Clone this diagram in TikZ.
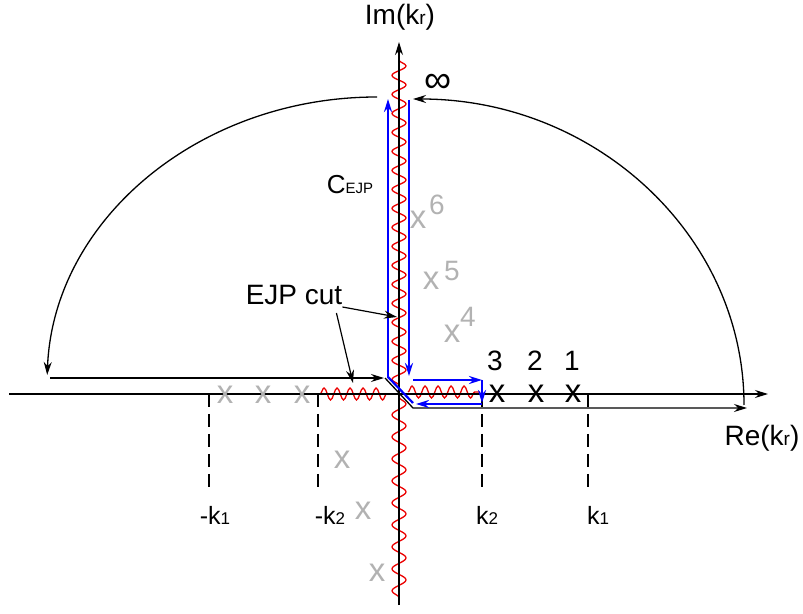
\documentclass[tikz,border=0pt]{standalone}
\usepackage{fontspec}
\setmainfont{Liberation Sans}
\usetikzlibrary{arrows.meta,decorations.pathmorphing}
\newcommand\myBig{\fontsize{28}{32}\selectfont}
\newcommand\myMid{\fontsize{25}{28}\selectfont}
\newcommand\mySub{\fontsize{19}{22}\selectfont}
\newcommand\mySmall{\fontsize{17}{20}\selectfont}
\newcommand\myTiny{\fontsize{15}{18}\selectfont}
\newcommand\myCross{\fontsize{33}{36}\selectfont}
\definecolor{polegray}{RGB}{178,178,178}
\definecolor{cutred}{RGB}{235,0,0}
\definecolor{pathblue}{RGB}{0,0,255}
\begin{document}
\begin{tikzpicture}[x=1pt,y=1pt,
  axis/.style={line width=1.3pt,-{Stealth[length=13pt,width=8pt]}},
  blk/.style={line width=1.3pt,-{Stealth[length=13pt,width=8pt]}},
  blu/.style={draw=pathblue,line width=2.2pt,-{Stealth[length=13pt,width=8pt]}},
  bluline/.style={draw=pathblue,line width=2.2pt},
  cutv/.style={draw=cutred,line width=1.3pt,decorate,decoration={snake,amplitude=7pt,segment length=19pt}},
  cuth/.style={draw=cutred,line width=1.3pt,decorate,decoration={snake,amplitude=6pt,segment length=13pt}},
  dashln/.style={line width=1.2pt,dash pattern=on 13pt off 7pt},
  lab/.style={inner sep=0pt,font=\myBig},
  klab/.style={inner sep=0pt,font=\myMid},
  pole/.style={inner sep=0pt,text=polegray,font=\myCross},
  polesup/.style={inner sep=0pt,text=polegray,font=\myBig},
  bpole/.style={inner sep=0pt,font=\myCross},
]
\useasboundingbox (0,0) rectangle (803,613);
% red cuts
\draw[cutv] (399,553) -- (399,222);
\draw[cutv,decoration={snake,amplitude=7pt,segment length=22pt}] (399,216) -- (399,11);
\draw[cuth] (320,219) -- (393,219);
\draw[cuth] (408,221) -- (480,221);
% axes
\draw[axis] (9,219) -- (768,219);
\draw[axis] (399,8) -- (399,571);
\node[lab] (im) at (400,596) {Im(k{\mySub r})};
\node[lab] (re) at (762,175) {Re(k{\mySub r})};
% dashed markers
\draw[dashln] (209,219) -- (209,123);
\draw[dashln] (318,219) -- (318,123);
\draw[dashln] (482,219) -- (482,123);
\draw[dashln] (588,219) -- (588,123);
\node[klab] (mk1) at (215,98) {-k{\mySmall 1}};
\node[klab] (mk2) at (330,98) {-k{\mySmall 2}};
\node[klab] (k2) at (487,98) {k{\mySmall 2}};
\node[klab] (k1) at (598,98) {k{\mySmall 1}};
% black contour
\draw[blk] (377,516) arc[start angle=90,end angle=178,x radius=330,y radius=288];
\draw[blk] (50,235) -- (384,235);
\draw[blk] (385,235) -- (413,205) -- (747,205);
\draw[blk] (744,208) arc[start angle=0,end angle=90,x radius=331,y radius=306];
\node[inner sep=0pt,font=\fontsize{38}{40}\selectfont] (inf) at (438,530) {∞};
% blue contour
\draw[blu] (409,513) -- (409,237);
\draw[blu] (413,233) -- (482,233);
\draw[blu] (482,233) -- (482,210);
\draw[blu] (482,209) -- (416,209);
\draw[bluline] (413,210) -- (388,236);
\draw[blu] (388,235) -- (388,514);
\node[inner sep=0pt] (cejp) at (350,428) {\fontsize{26}{30}\selectfont C{\myTiny EJP}};
% EJP cut label
\node[lab] (cut) at (294,318) {EJP cut};
\coordinate (tipA) at (397,296);
\coordinate (tipB) at (353,230);
\draw[blk,line width=1.2pt] (cut.east) ++(0,-12) -- (tipA);
\draw[blk,line width=1.2pt] (cut.east) ++(-6,-18) -- (tipB);
% grey poles
\node[pole] (p1) at (225,218) {x};
\node[pole] (p2) at (263,218) {x};
\node[pole] (p3) at (302,218) {x};
\node[pole] (p4) at (342,153) {x};
\node[pole] (p5) at (363,102) {x};
\node[pole] (p6) at (377,40) {x};
\node[pole] (u6) at (418,393) {x};
\node[polesup] (s6) at (437,408) {6};
\node[pole] (u5) at (431,332) {x};
\node[polesup] (s5) at (452,342) {5};
\node[pole] (u4) at (452,279) {x};
\node[polesup] (s4) at (468,296) {4};
% black poles
\node[bpole] (b3) at (497,219) {x};
\node[bpole] (b2) at (536,219) {x};
\node[bpole] (b1) at (573,219) {x};
\node[lab] (n3) at (495,252) {3};
\node[lab] (n2) at (535,252) {2};
\node[lab] (n1) at (572,252) {1};
\end{tikzpicture}
\end{document}
